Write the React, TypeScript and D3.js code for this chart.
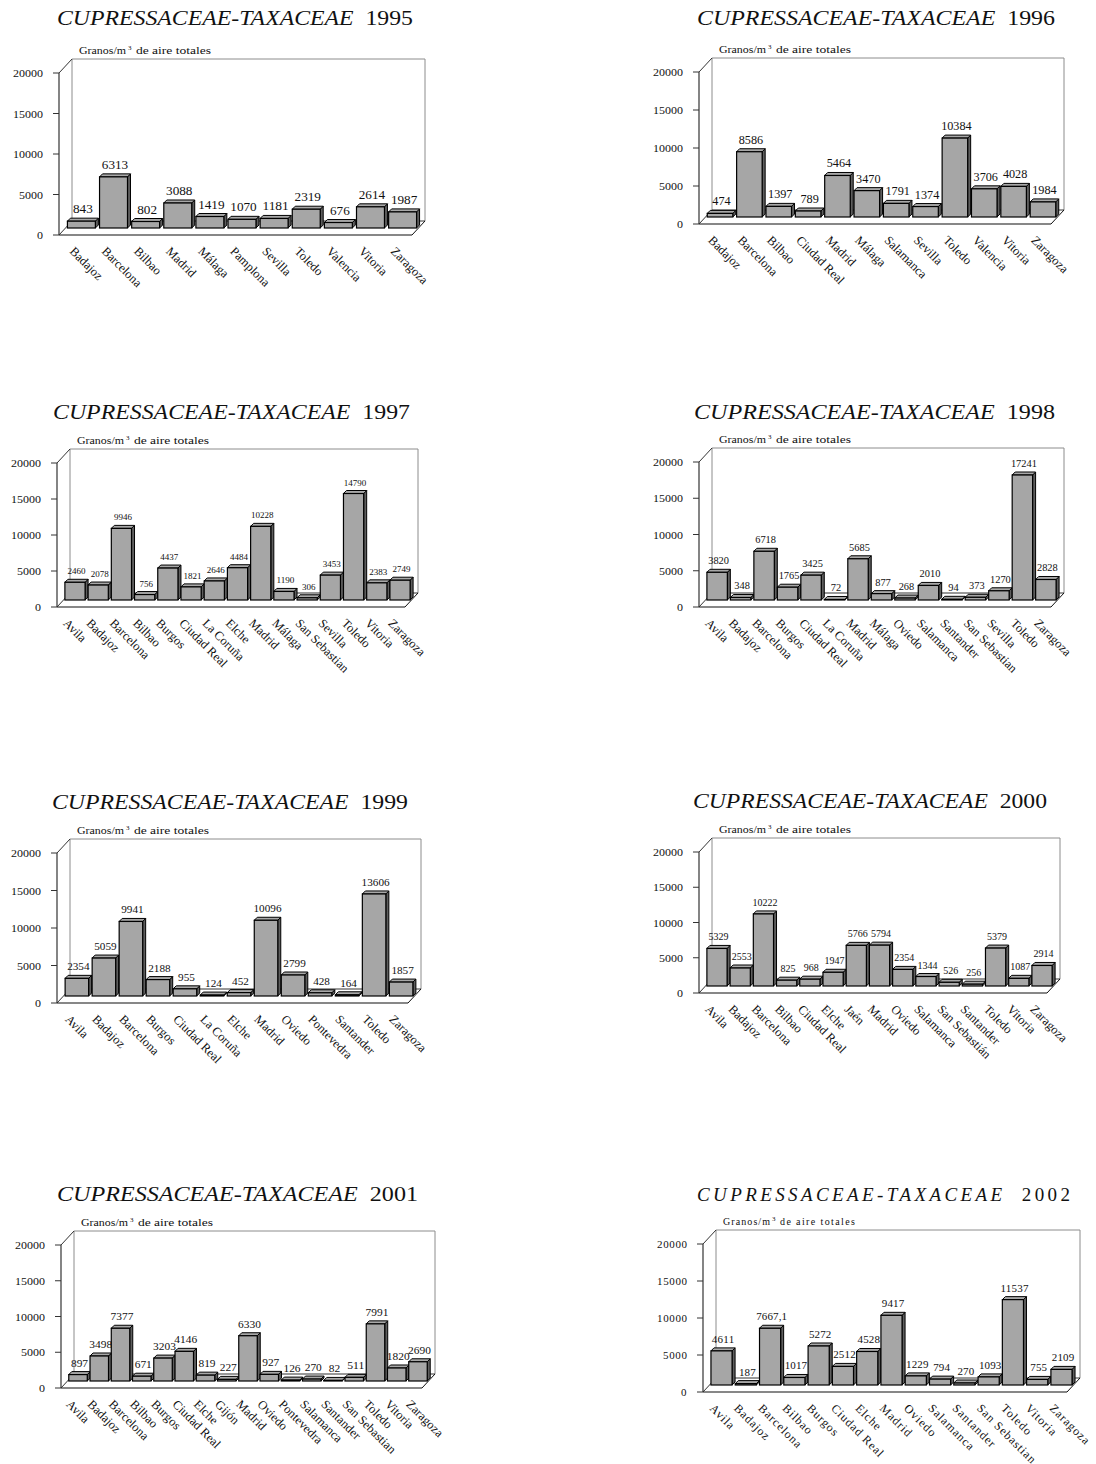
import React from "react";
import * as d3 from "d3";

// Annual totals of Cupressaceae-Taxaceae pollen (granos/m³ de aire) per station.
const CATS_1995 = ["Badajoz", "Barcelona", "Bilbao", "Madrid", "Málaga", "Pamplona", "Sevilla", "Toledo", "Valencia", "Vitoria", "Zaragoza"];
const VALS_1995 = [843, 6313, 802, 3088, 1419, 1070, 1181, 2319, 676, 2614, 1987];

const CATS_1996 = ["Badajoz", "Barcelona", "Bilbao", "Ciudad Real", "Madrid", "Málaga", "Salamanca", "Sevilla", "Toledo", "Valencia", "Vitoria", "Zaragoza"];
const VALS_1996 = [474, 8586, 1397, 789, 5464, 3470, 1791, 1374, 10384, 3706, 4028, 1984];

const CATS_1997 = ["Avila", "Badajoz", "Barcelona", "Bilbao", "Burgos", "Ciudad Real", "La Coruña", "Elche", "Madrid", "Málaga", "San Sebastian", "Sevilla", "Toledo", "Vitoria", "Zaragoza"];
const VALS_1997 = [2460, 2078, 9946, 756, 4437, 1821, 2646, 4484, 10228, 1190, 306, 3453, 14790, 2383, 2749];

const CATS_1998 = ["Avila", "Badajoz", "Barcelona", "Burgos", "Ciudad Real", "La Coruña", "Madrid", "Málaga", "Oviedo", "Salamanca", "Santander", "San Sebastian", "Sevilla", "Toledo", "Zaragoza"];
const VALS_1998 = [3820, 348, 6718, 1765, 3425, 72, 5685, 877, 268, 2010, 94, 373, 1270, 17241, 2828];

const CATS_1999 = ["Avila", "Badajoz", "Barcelona", "Burgos", "Ciudad Real", "La Coruña", "Elche", "Madrid", "Oviedo", "Pontevedra", "Santander", "Toledo", "Zaragoza"];
const VALS_1999 = [2354, 5059, 9941, 2188, 955, 124, 452, 10096, 2799, 428, 164, 13606, 1857];

const CATS_2000 = ["Avila", "Badajoz", "Barcelona", "Bilbao", "Ciudad Real", "Elche", "Jaén", "Madrid", "Oviedo", "Salamanca", "San Sebastián", "Santander", "Toledo", "Vitoria", "Zaragoza"];
const VALS_2000 = [5329, 2553, 10222, 825, 968, 1947, 5766, 5794, 2354, 1344, 526, 256, 5379, 1087, 2914];

const CATS_2001 = ["Avila", "Badajoz", "Barcelona", "Bilbao", "Burgos", "Ciudad Real", "Elche", "Gijón", "Madrid", "Oviedo", "Pontevedra", "Salamanca", "Santander", "San Sebastian", "Toledo", "Vitoria", "Zaragoza"];
const VALS_2001 = [897, 3498, 7377, 671, 3203, 4146, 819, 227, 6330, 927, 126, 270, 82, 511, 7991, 1820, 2690];

const CATS_2002 = ["Avila", "Badajoz", "Barcelona", "Bilbao", "Burgos", "Ciudad Real", "Elche", "Madrid", "Oviedo", "Salamanca", "Santander", "San Sebastian", "Toledo", "Vitoria", "Zaragoza"];
const VALS_2002 = [4611, 187, 7667.1, 1017, 5272, 2512, 4528, 9417, 1229, 794, 270, 1093, 11537, 755, 2109];

const YEARS = ["1995", "1996", "1997", "1998", "1999", "2000", "2001", "2002"];
const Y_TICKS = [0, 5000, 10000, 15000, 20000];
const TAXON = "CUPRESSACEAE-TAXACEAE";

const DATASETS = [
  [CATS_1995, VALS_1995],
  [CATS_1996, VALS_1996],
  [CATS_1997, VALS_1997],
  [CATS_1998, VALS_1998],
  [CATS_1999, VALS_1999],
  [CATS_2000, VALS_2000],
  [CATS_2001, VALS_2001],
  [CATS_2002, VALS_2002],
];

// Panel placement on the page (front axis foot, front floor end, title box, label sizes).
const LAYOUTS = [
  { axisX: 59, y0: 235, y20: 73, rightX: 412, titleX: 57, titleY: 25, titleW: 356, valFs: 12, valDw: 6.6, ls: 0, catFs: 12.5, spaced: false },
  { axisX: 699, y0: 224, y20: 72, rightX: 1051, titleX: 697, titleY: 25, titleW: 358, valFs: 11.5, valDw: 6.1, ls: 0, catFs: 12.5, spaced: false },
  { axisX: 57, y0: 607, y20: 463, rightX: 405, titleX: 53, titleY: 419, titleW: 357, valFs: 9, valDw: 4.5, ls: 0, catFs: 12.5, spaced: false },
  { axisX: 699, y0: 607, y20: 462, rightX: 1051, titleX: 694, titleY: 419, titleW: 361, valFs: 10, valDw: 5.2, ls: 0, catFs: 12.5, spaced: false },
  { axisX: 57, y0: 1003, y20: 853, rightX: 408, titleX: 52, titleY: 809, titleW: 356, valFs: 10.5, valDw: 5.6, ls: 0, catFs: 12.5, spaced: false },
  { axisX: 699, y0: 993, y20: 852, rightX: 1047, titleX: 693, titleY: 808, titleW: 354, valFs: 9.5, valDw: 5.0, ls: 0, catFs: 12.5, spaced: false },
  { axisX: 61, y0: 1388, y20: 1245, rightX: 422, titleX: 57, titleY: 1201, titleW: 361, valFs: 10.5, valDw: 5.7, ls: 0, catFs: 12.5, spaced: false },
  { axisX: 703, y0: 1392, y20: 1244, rightX: 1067, titleX: 697, titleY: 1201, titleW: 373, valFs: 11, valDw: 5.6, ls: 0.9, catFs: 12, spaced: true },
];

const FONT = "'Liberation Serif', 'Times New Roman', Times, serif";
const DEPTH_X = 13;
const DEPTH_Y = -14;
const BAR_DX = 3;
const BAR_DY = -3;

const fmtValue = (v: number) => (Number.isInteger(v) ? String(v) : String(v).replace(".", ","));

function Panel({ year, cats, vals, L }: { year: string; cats: string[]; vals: number[]; L: any }) {
  const { axisX, y0, y20, rightX } = L;
  const x = d3.scaleBand<string>().domain(cats).range([axisX, rightX]).paddingInner(0.13).paddingOuter(0.06);
  const y = d3.scaleLinear().domain([0, 20000]).range([y0, y20]);
  const bw = x.bandwidth();
  const midX = DEPTH_X / 2;
  const midY = DEPTH_Y / 2;
  const bx = axisX + DEPTH_X;
  const rx = rightX + DEPTH_X;
  const topB = y20 + DEPTH_Y;
  const floorB = y0 + DEPTH_Y;
  const wall = "#8c8c8c";
  const adjust = L.spaced ? "spacing" : "spacingAndGlyphs";

  return (
    <g>
      {/* title */}
      <text
        x={L.titleX}
        y={L.titleY}
        fontFamily={FONT}
        fontSize={L.spaced ? 19 : 20}
        textLength={L.titleW}
        lengthAdjust={adjust}
        fill="#111"
      >
        <tspan fontStyle="italic">{TAXON}</tspan>
        <tspan>{"\u00a0\u00a0" + year}</tspan>
      </text>

      {/* unit label */}
      <text x={axisX + 20} y={topB - 5} fontFamily={FONT} fontSize={10} textLength={47} lengthAdjust={adjust} fill="#111">
        Granos/m
      </text>
      <text x={axisX + 69} y={topB - 9} fontFamily={FONT} fontSize={7} fill="#111">
        3
      </text>
      <text x={axisX + 77} y={topB - 5} fontFamily={FONT} fontSize={10} textLength={75} lengthAdjust={adjust} fill="#111">
        de aire totales
      </text>

      {/* back wall and floor */}
      <line x1={bx} y1={topB} x2={rx} y2={topB} stroke={wall} strokeWidth={1} />
      <line x1={bx} y1={topB} x2={bx} y2={floorB} stroke={wall} strokeWidth={1} />
      <line x1={rx} y1={topB} x2={rx} y2={floorB} stroke={wall} strokeWidth={1} />
      <line x1={bx} y1={floorB} x2={rx} y2={floorB} stroke="#333" strokeWidth={1} />
      <line x1={axisX} y1={y0} x2={bx} y2={floorB} stroke="#333" strokeWidth={1} />
      <line x1={rightX} y1={y0} x2={rx} y2={floorB} stroke="#111" strokeWidth={1} />
      <line x1={axisX} y1={y20} x2={bx} y2={topB} stroke="#333" strokeWidth={1} />

      {/* bars */}
      {cats.map((c, i) => {
        const v = vals[i];
        const x0 = (x(c) as number) + midX;
        const x1 = x0 + bw;
        const yb = y(0) + midY;
        const yt = y(v) + midY;
        const side = `M${x1},${yb} L${x1 + BAR_DX},${yb + BAR_DY} L${x1 + BAR_DX},${yt + BAR_DY} L${x1},${yt} Z`;
        const top = `M${x0},${yt} L${x0 + BAR_DX},${yt + BAR_DY} L${x1 + BAR_DX},${yt + BAR_DY} L${x1},${yt} Z`;
        const label = fmtValue(v);
        const digits = label.replace(",", "").length;
        const lw = L.valDw * digits + (label.includes(",") ? L.valDw * 0.5 : 0);
        return (
          <g key={c}>
            <path d={side} fill="#5e5e5e" stroke="#000" strokeWidth={1} strokeLinejoin="round" />
            <path d={top} fill="#a8a8a8" stroke="#000" strokeWidth={1} strokeLinejoin="round" />
            <rect x={x0} y={yt} width={bw} height={yb - yt} fill="#a6a6a6" stroke="#000" strokeWidth={1.2} />
            <text
              x={x0 + bw / 2 + 1.5 - lw / 2}
              y={yt - 8}
              fontFamily={FONT}
              fontSize={L.valFs}
              textLength={lw}
              lengthAdjust={adjust}
              fill="#111"
            >
              {label}
            </text>
          </g>
        );
      })}

      {/* front axis and floor edge */}
      <line x1={axisX} y1={y0} x2={rightX} y2={y0} stroke="#111" strokeWidth={1.2} />
      <line x1={axisX} y1={y0} x2={axisX} y2={y20} stroke="#333" strokeWidth={1.2} />
      {Y_TICKS.map((t) => {
        const s = String(t);
        return (
          <g key={t}>
            <line x1={axisX - 6} y1={y(t)} x2={axisX} y2={y(t)} stroke="#333" strokeWidth={1} />
            <text
              x={axisX - 16 - 6 * s.length}
              y={y(t) + 4}
              fontFamily={FONT}
              fontSize={11}
              textLength={6 * s.length}
              lengthAdjust={adjust}
              fill="#111"
            >
              {s}
            </text>
          </g>
        );
      })}

      {/* station names */}
      {cats.map((c) => {
        const cx = (x(c) as number) + bw / 2;
        const tx = cx - 6;
        const ty = y0 + 17;
        return (
          <text
            key={"l" + c}
            transform={`translate(${tx},${ty}) rotate(45)`}
            fontFamily={FONT}
            fontSize={L.catFs}
            letterSpacing={L.ls}
            fill="#111"
          >
            {c}
          </text>
        );
      })}
    </g>
  );
}

export default function App() {
  return (
    <svg
      width={1096}
      height={1464}
      viewBox="0 0 1096 1464"
      style={{ position: "absolute", left: 0, top: 0, background: "#fff" }}
    >
      <rect x={0} y={0} width={1096} height={1464} fill="#fff" />
      {DATASETS.map(([cats, vals], i) => (
        <Panel key={YEARS[i]} year={YEARS[i]} cats={cats as string[]} vals={vals as number[]} L={LAYOUTS[i]} />
      ))}
    </svg>
  );
}
